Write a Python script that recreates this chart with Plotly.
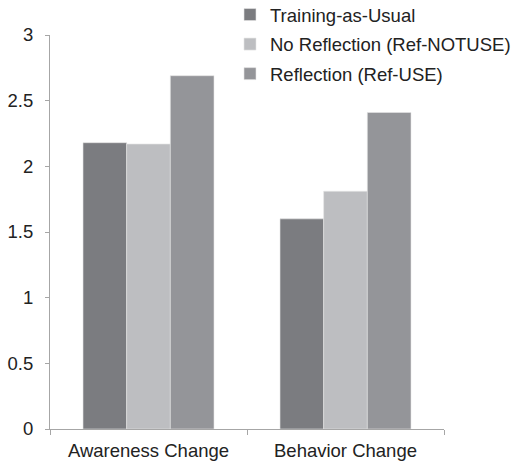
import plotly.graph_objects as go

categories = ["Awareness Change", "Behavior Change"]
series_names = ["Training-as-Usual", "No Reflection (Ref-NOTUSE)", "Reflection (Ref-USE)"]
training = [2.18, 1.60]
no_reflection = [2.17, 1.81]
reflection = [2.69, 2.41]
y_ticks = [0, 0.5, 1, 1.5, 2, 2.5, 3]
y_tick_labels = ["0", "0.5", "1", "1.5", "2", "2.5", "3"]

colors = ["#7b7c80", "#bdbec1", "#949599"]
values = [training, no_reflection, reflection]

W, H = 515, 461
ML, MR, MT, MB = 50, 71, 0, 32
plot_top_px = 35
paper_h = H - MT - MB
ydom_top = (paper_h - plot_top_px) / paper_h

fig = go.Figure()
for i, (name, vals) in enumerate(zip(series_names, values)):
    fig.add_trace(go.Bar(
        x=categories, y=vals, name=name,
        marker=dict(color=colors[i], line=dict(color="#e6e6e6", width=0.6)),
        legendgroup=str(i),
    ))

fig.update_layout(
    template="none",
    width=W, height=H,
    margin=dict(l=ML, r=MR, t=MT, b=MB, pad=0, autoexpand=False),
    paper_bgcolor="white", plot_bgcolor="white",
    barmode="group", bargap=0.335, bargroupgap=0,
    font=dict(family="Liberation Sans, Arial, sans-serif", size=18.5, color="#222222"),
    showlegend=True,
    legend=dict(x=(230 - ML) / (W - ML - MR), y=1 + 4 / paper_h, xanchor="left", yanchor="top",
                font=dict(size=18.5), tracegroupgap=2.5, itemwidth=30,
                bgcolor="rgba(0,0,0,0)", borderwidth=0),
    xaxis=dict(showline=True, linecolor="#a6a6a6", linewidth=1, automargin=False,
               ticks="outside", tickson="boundaries", ticklen=5, tickcolor="#a6a6a6",
               ticklabelstandoff=5,
               showgrid=False, zeroline=False),
    yaxis=dict(range=[0, 3], tickvals=y_ticks, ticktext=y_tick_labels,
               domain=[0, ydom_top], automargin=False,
               showline=True, linecolor="#a6a6a6", linewidth=1,
               ticks="outside", ticklen=4, tickcolor="#a6a6a6",
               ticklabelstandoff=8,
               showgrid=False, zeroline=False),
)

fig.write_html("out.html", config={"displayModeBar": False},
               post_script="document.body.style.margin='0px';document.body.style.overflow='hidden';")
